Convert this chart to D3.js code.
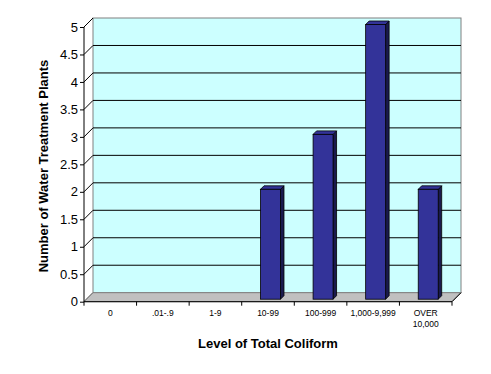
<!DOCTYPE html>
<html><head><meta charset="utf-8">
<script src="https://cdn.jsdelivr.net/npm/d3@7"></script>
<style>body{margin:0;background:#fff}svg{display:block}text{font-family:"Liberation Sans",Arial,sans-serif}</style>
</head><body>
<script>
const categories = ["0", ".01-.9", "1-9", "10-99", "100-999", "1,000-9,999", "OVER\n10,000"];
const values = [0, 0, 0, 2, 3, 5, 2];
const yTicks = [0, 0.5, 1, 1.5, 2, 2.5, 3, 3.5, 4, 4.5, 5];
const xTitle = "Level of Total Coliform";
const yTitle = "Number of Water Treatment Plants";

const W = 491, H = 374;
const svg = d3.select("body").append("svg").attr("width", W).attr("height", H);

const left = 84, right = 452, base = 301.7, top5 = 27;
const D = 9; // depth offset
const d1 = 2.5, d2 = 6;

const y = d3.scaleLinear().domain([0, 5]).range([base, top5]);
const x = d3.scaleBand().domain(categories).range([left, right]).paddingInner(0.62).paddingOuter(0.31);
const xEdges = d3.scaleLinear().domain([0, categories.length]).range([left, right]);

// back wall
svg.append("rect").attr("x", left + D).attr("y", y(5) - D)
  .attr("width", right - left).attr("height", base - y(5))
  .attr("fill", "#ccffff").attr("stroke", "#808080").attr("stroke-width", 1);

// gridlines on back wall
svg.append("g").selectAll("line").data(yTicks.filter(v => v > 0 && v < 5)).join("line")
  .attr("x1", left + D).attr("x2", right + D)
  .attr("y1", d => y(d) - D).attr("y2", d => y(d) - D)
  .attr("stroke", "#000").attr("stroke-width", 1);

// side wall diagonals
svg.append("g").selectAll("line").data(yTicks).join("line")
  .attr("x1", left).attr("y1", d => y(d))
  .attr("x2", left + D).attr("y2", d => y(d) - D)
  .attr("stroke", "#000").attr("stroke-width", 1);

// floor
svg.append("path")
  .attr("d", `M${left},${base}L${right},${base}L${right + D},${base - D}L${left + D},${base - D}Z`)
  .attr("fill", "#c0c0c0").attr("stroke", "#808080").attr("stroke-width", 1);
svg.append("line").attr("x1", right).attr("y1", base).attr("x2", right + D).attr("y2", base - D)
  .attr("stroke", "#000");

// bars
const bars = svg.append("g").selectAll("g").data(categories.map((c, i) => ({c, v: values[i]})).filter(d => d.v > 0)).join("g");
bars.each(function(d) {
  const g = d3.select(this);
  const x0 = x(d.c), x1 = x0 + x.bandwidth(), yv = y(d.v), y0 = base;
  g.append("path").attr("d", `M${x1 + d1},${yv - d1}L${x1 + d2},${yv - d2}L${x1 + d2},${y0 - d2}L${x1 + d1},${y0 - d1}Z`)
    .attr("fill", "#1a1a4d").attr("stroke", "#000").attr("stroke-width", 0.8);
  g.append("path").attr("d", `M${x0 + d1},${yv - d1}L${x1 + d1},${yv - d1}L${x1 + d2},${yv - d2}L${x0 + d2},${yv - d2}Z`)
    .attr("fill", "#333399").attr("stroke", "#000").attr("stroke-width", 0.8);
  g.append("rect").attr("x", x0 + d1).attr("y", yv - d1).attr("width", x.bandwidth()).attr("height", y0 - yv)
    .attr("fill", "#333399").attr("stroke", "#000").attr("stroke-width", 0.8);
});

// y axis
const yAxis = d3.axisLeft(y).tickValues(yTicks).tickSize(4).tickFormat(d3.format("~g"));
const ya = svg.append("g").attr("transform", `translate(${left},0)`).call(yAxis);
ya.select(".domain").attr("d", `M0,${y(5)}V${base}`).attr("stroke", "#000");
ya.selectAll("text").attr("font-size", 13).attr("fill", "#000").attr("x", -6);

// x axis
svg.append("line").attr("x1", left).attr("x2", right).attr("y1", base).attr("y2", base).attr("stroke", "#000");
svg.append("g").selectAll("line").data(d3.range(categories.length + 1)).join("line")
  .attr("x1", d => xEdges(d)).attr("x2", d => xEdges(d)).attr("y1", base).attr("y2", base + 4)
  .attr("stroke", "#000");
const xl = svg.append("g").selectAll("text").data(categories).join("text")
  .attr("x", d => x(d) + x.bandwidth() / 2).attr("y", 316)
  .attr("text-anchor", "middle").attr("font-size", 8.5).attr("fill", "#000");
xl.each(function(d) {
  const t = d3.select(this);
  d.split("\n").forEach((s, i) => t.append("tspan").attr("x", x(d) + x.bandwidth() / 2).attr("dy", i ? 11 : 0).text(s));
});

// titles
svg.append("text").attr("x", 268).attr("y", 348).attr("text-anchor", "middle")
  .attr("font-size", 13).attr("font-weight", "bold").text(xTitle);
svg.append("text").attr("transform", `translate(48,166) rotate(-90)`).attr("text-anchor", "middle")
  .attr("font-size", 13).attr("font-weight", "bold").text(yTitle);
</script>
</body></html>
